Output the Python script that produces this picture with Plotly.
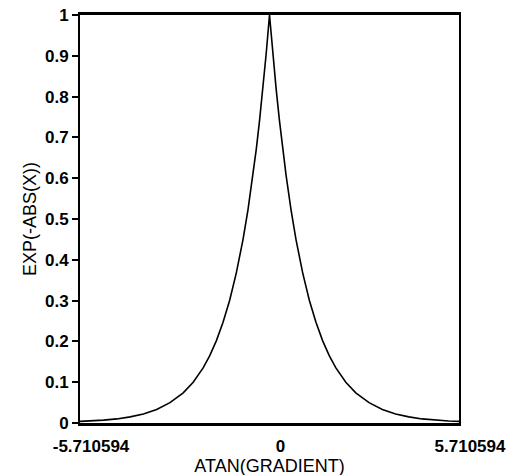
import plotly.graph_objects as go

# Values (right half; left half mirrors it)
x_right = [0.0, 0.1, 0.2, 0.3, 0.4, 0.5, 0.65, 0.8, 1.0, 1.2, 1.4, 1.6, 1.8, 2.0,
           2.3, 2.6, 3.0, 3.4, 3.8, 4.2, 4.6, 5.0, 5.4, 5.710594]
y_right = [1.0, 0.905, 0.819, 0.741, 0.670, 0.607, 0.522, 0.449, 0.368, 0.301,
           0.247, 0.202, 0.165, 0.135, 0.100, 0.074, 0.050, 0.033, 0.022, 0.015,
           0.010, 0.007, 0.005, 0.004]

x_vals = [-v for v in x_right[::-1]] + x_right[1:]
y_vals = y_right[::-1] + y_right[1:]

x_ticks = [-5.710594, 0, 5.710594]
x_tick_labels = ["-5.710594", "0", "5.710594"]
y_ticks = [0, 0.1, 0.2, 0.3, 0.4, 0.5, 0.6, 0.7, 0.8, 0.9, 1]
y_tick_labels = ["0", "0.1", "0.2", "0.3", "0.4", "0.5", "0.6", "0.7", "0.8", "0.9", "1"]

fig = go.Figure()
fig.add_trace(go.Scatter(x=x_vals, y=y_vals, mode="lines",
                         line=dict(color="black", width=1.6), showlegend=False))

fam = "Liberation Sans, Arial, sans-serif"
tickfont = dict(family=fam, size=17, color="black", weight="bold")
titlefont = dict(family=fam, size=18, color="black")

fig.update_layout(
    width=518, height=475,
    margin=dict(l=72, r=67, t=7, b=60, autoexpand=False),
    paper_bgcolor="white", plot_bgcolor="white",
    font=dict(family=fam, size=14, color="black"),
    xaxis=dict(range=[-5.710594, 5.710594], tickvals=x_ticks, ticktext=x_tick_labels,
               ticks="", showgrid=False, zeroline=False, automargin=False,
               showline=True, linecolor="black", linewidth=3, mirror=True,
               tickfont=tickfont, ticklabelshift=11, ticklabelstandoff=6,
               ticklabeloverflow="allow",
               title=dict(text="ATAN(GRADIENT)", standoff=0, font=titlefont)),
    yaxis=dict(range=[0, 1], tickvals=y_ticks, ticktext=y_tick_labels,
               ticks="outside", ticklen=6, tickwidth=1.5, tickcolor="black",
               showgrid=False, zeroline=False, automargin=False,
               showline=True, linecolor="black", linewidth=2, mirror=True,
               tickfont=tickfont, ticklabeloverflow="allow",
               title=dict(text="EXP(-ABS(X))", standoff=4, font=titlefont)),
)

fig.write_html("out.html", config={"displayModeBar": False})
